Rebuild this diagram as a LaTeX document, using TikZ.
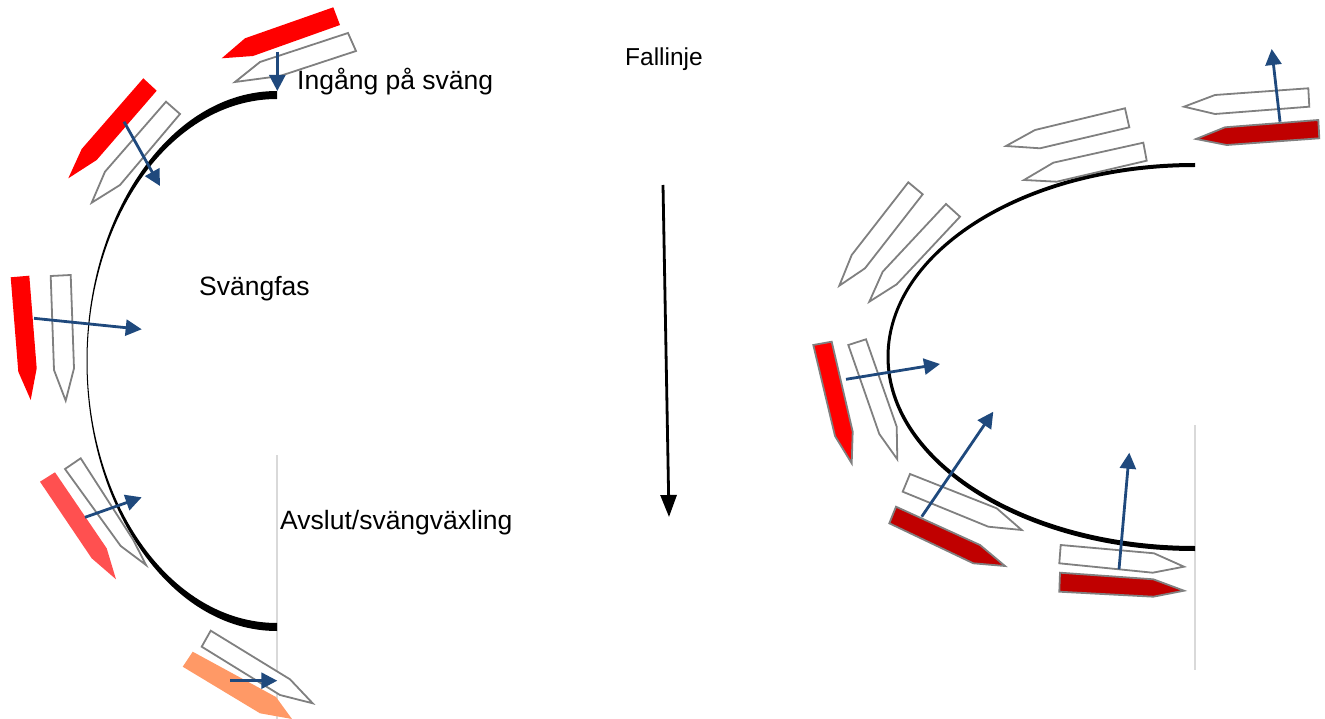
\documentclass[tikz,border=0pt]{standalone}
\usepackage{fontspec}
\setmainfont{Liberation Sans}
\usetikzlibrary{arrows.meta}
\definecolor{skired}{HTML}{FF0000}
\definecolor{skilight}{HTML}{FF5050}
\definecolor{skiorange}{HTML}{FF9966}
\definecolor{skidark}{HTML}{C00000}
\definecolor{skigray}{HTML}{808080}
\definecolor{arrowblue}{HTML}{1F497D}
\definecolor{guidegray}{HTML}{D9D9D9}
\tikzset{
  skiwhite/.style={draw=skigray, line width=1.8pt, fill=white, line join=miter},
  skiplain/.style={fill=#1},
  skiedged/.style={fill=#1, draw=skigray, line width=1.8pt, line join=miter},
  pressure/.style={draw=arrowblue, line width=2.8pt, -{Triangle[length=16pt,width=16pt]}},
  fallarrow/.style={draw=black, line width=2.8pt, -{Triangle[length=22pt,width=16pt]}},
  guide/.style={draw=guidegray, line width=1.4pt},
  lbl/.style={font=\fontsize{26.5}{30}\selectfont, anchor=base west, inner sep=0pt}
}
\begin{document}
\begin{tikzpicture}[x=1pt,y=-1pt]
\useasboundingbox (0,0) rectangle (1325,719);
% guide lines
\draw[guide] (277,455) coordinate (gl1) -- (277,719) coordinate (gl2);
\draw[guide] (1195,425) coordinate (gr1) -- (1195,670) coordinate (gr2);
% left arc (crescent)
\fill[black] (277,91) arc[start angle=270, end angle=90, x radius=190.5, y radius=270]
  -- (277,623) arc[start angle=90, end angle=270, x radius=189.5, y radius=262] -- cycle;
% right arc
\fill[black] (1195,163) arc[start angle=270, end angle=90, x radius=308.5, y radius=194]
  -- (1195,546) arc[start angle=90, end angle=270, x radius=305.5, y radius=189.5] -- cycle;
% fall line
\coordinate (f1) at (663,185);
\coordinate (f2) at (669,517);
\draw[fallarrow] (f1) -- (f2);
% ---- left skis ----
\fill[skiplain=skired] (333.3,7.3) -- (340,25) -- (253,56) -- (221.7,58.3) -- (245,38.3) -- cycle;
\draw[skiwhite] (348,33) -- (356,51) -- (280,76) -- (235,82) -- (260,62) -- cycle;
\coordinate (a1s) at (277.3,51.7); \coordinate (a1e) at (277.3,91);
\draw[pressure] (a1s) -- (a1e);

\fill[skiplain=skired] (143.3,78.3) -- (156.7,90.7) -- (96.7,160) -- (68.3,178.3) -- (81.7,149) -- cycle;
\draw[skiwhite] (166,101.7) -- (180,114) -- (120,185) -- (91.7,202.7) -- (105,171.7) -- cycle;
\coordinate (a2s) at (124,121.7); \coordinate (a2e) at (160,186);
\draw[pressure] (a2s) -- (a2e);

\fill[skiplain=skired] (10.7,277.3) -- (29.3,275.7) -- (36.7,368.3) -- (30.7,400) -- (18.3,371.7) -- cycle;
\draw[skiwhite] (50.7,276) -- (70.7,275) -- (74,368.3) -- (65.7,400.7) -- (54,370) -- cycle;
\coordinate (a3s) at (34,318.3); \coordinate (a3e) at (141.7,329.3);
\draw[pressure] (a3s) -- (a3e);

\fill[skiplain=skilight] (40,481.7) -- (55,472.3) -- (106.7,548.3) -- (116,579.3) -- (91.7,558.3) -- cycle;
\draw[skiwhite] (65,469) -- (80.7,458.3) -- (133.3,540) -- (146,565) -- (120.7,546) -- cycle;
\coordinate (a4s) at (85,517.3); \coordinate (a4e) at (141.7,497.3);
\draw[pressure] (a4s) -- (a4e);

\fill[skiplain=skiorange] (182.7,666.7) -- (192.7,651.7) -- (276,697) -- (292,719) -- (260,713.3) -- cycle;
\draw[skiwhite] (210.7,630.7) -- (201.7,646.7) -- (280,695) -- (312.7,703.3) -- (290,679.3) -- cycle;
\coordinate (a5s) at (230,680.7); \coordinate (a5e) at (277.3,680.7);
\draw[pressure] (a5s) -- (a5e);
% ---- right skis ----
\draw[skiwhite] (1308.3,88.3) -- (1309.3,106.7) -- (1215,114) -- (1184,106.7) -- (1215,95) -- cycle;
\draw[skiedged=skidark] (1318.3,120) -- (1319.3,138.3) -- (1226.7,145) -- (1196,139) -- (1225,127.3) -- cycle;
\coordinate (r1s) at (1280,121.7); \coordinate (r1e) at (1271.7,49);
\draw[pressure] (r1s) -- (r1e);

\draw[skiwhite] (1125,108.3) -- (1129.3,127.3) -- (1040,148.3) -- (1006,146) -- (1035,130) -- cycle;
\draw[skiwhite] (1143.3,142.7) -- (1146.7,160.7) -- (1056.7,181.7) -- (1024,180) -- (1053.3,162.7) -- cycle;

\draw[skiwhite] (908.3,182.3) -- (922.7,194.3) -- (865,268.3) -- (839.3,285.7) -- (851.7,255) -- cycle;
\draw[skiwhite] (946,204) -- (960,216.7) -- (896.7,284.3) -- (869.3,301.7) -- (882.7,271.7) -- cycle;

\draw[skiedged=skired] (813.3,345) -- (831.7,341.7) -- (852.7,431.7) -- (851.7,463.3) -- (835,436) -- cycle;
\draw[skiwhite] (848.3,345) -- (866,339.3) -- (896.7,426.7) -- (897.3,459.3) -- (879.3,434) -- cycle;
\coordinate (r4s) at (846,379.3); \coordinate (r4e) at (940,364);
\draw[pressure] (r4s) -- (r4e);

\draw[skiwhite] (910,474) -- (902.7,491.7) -- (988.3,526.7) -- (1021.7,530) -- (996.7,508.3) -- cycle;
\draw[skiedged=skidark] (896,506.7) -- (889.3,523.3) -- (973.3,563.3) -- (1005,566) -- (980,545) -- cycle;
\coordinate (r5s) at (921.7,516.7); \coordinate (r5e) at (993.3,411.7);
\draw[pressure] (r5s) -- (r5e);

\draw[skiwhite] (1060.7,545) -- (1059.3,563.3) -- (1152.7,572.7) -- (1184,566.7) -- (1154,553.3) -- cycle;
\draw[skiedged=skidark] (1060,572.7) -- (1059.3,591.7) -- (1153.3,596.7) -- (1184,590.7) -- (1153.3,579.3) -- cycle;
\coordinate (r6s) at (1119,569.3); \coordinate (r6e) at (1129.3,452.7);
\draw[pressure] (r6s) -- (r6e);
% labels
\node[lbl] (ingang) at (297,90) {Ingång på sväng};
\node[lbl, font=\fontsize{24.5}{28}\selectfont] (fallinje) at (625,66) {Fallinje};
\node[lbl] (svangfas) at (199,295) {Svängfas};
\node[lbl] (avslut) at (280,529) {Avslut/svängväxling};
\end{tikzpicture}
\end{document}
